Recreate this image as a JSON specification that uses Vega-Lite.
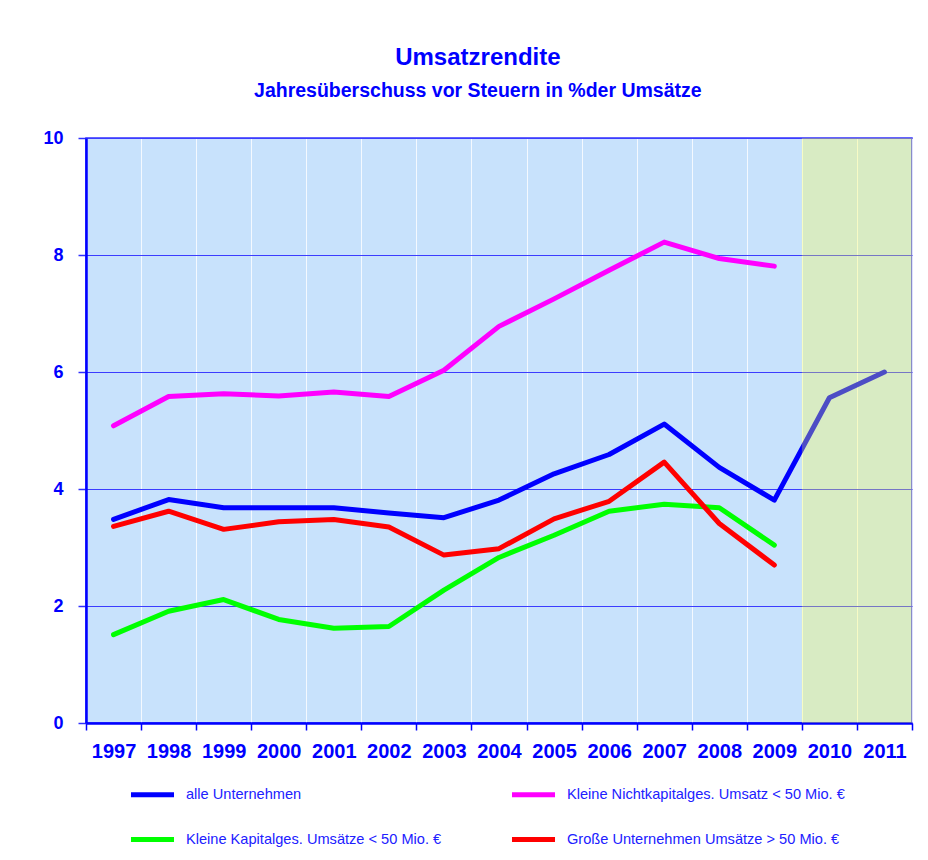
{
  "$schema": "https://vega.github.io/schema/vega-lite/v6.json",
  "width": 826,
  "height": 585,
  "autosize": {"type": "none"},
  "padding": {"left": 86, "top": 138, "right": 16, "bottom": 137},
  "background": "white",
  "title": {
    "text": "Umsatzrendite",
    "subtitle": "Jahresüberschuss vor Steuern in %der Umsätze",
    "anchor": "middle",
    "frame": "bounds",
    "color": "#0000ff",
    "subtitleColor": "#0000ff",
    "font": "Liberation Sans",
    "subtitleFont": "Liberation Sans",
    "fontSize": 24,
    "subtitleFontSize": 19.5,
    "fontWeight": "bold",
    "subtitleFontWeight": "bold",
    "offset": 29,
    "subtitlePadding": 12
  },
  "config": {
    "view": {"fill": "#c8e2fc", "stroke": "#3030ff", "strokeWidth": 1.5}
  },
  "layer": [
    {
      "data": {
        "values": [
          {"year": "1997", "series": "alle Unternehmen", "value": 3.48},
          {"year": "1998", "series": "alle Unternehmen", "value": 3.82},
          {"year": "1999", "series": "alle Unternehmen", "value": 3.68},
          {"year": "2000", "series": "alle Unternehmen", "value": 3.68},
          {"year": "2001", "series": "alle Unternehmen", "value": 3.68},
          {"year": "2002", "series": "alle Unternehmen", "value": 3.59},
          {"year": "2003", "series": "alle Unternehmen", "value": 3.51},
          {"year": "2004", "series": "alle Unternehmen", "value": 3.81},
          {"year": "2005", "series": "alle Unternehmen", "value": 4.26},
          {"year": "2006", "series": "alle Unternehmen", "value": 4.59},
          {"year": "2007", "series": "alle Unternehmen", "value": 5.11},
          {"year": "2008", "series": "alle Unternehmen", "value": 4.37},
          {"year": "2009", "series": "alle Unternehmen", "value": 3.81},
          {"year": "2010", "series": "alle Unternehmen", "value": 5.56},
          {"year": "2011", "series": "alle Unternehmen", "value": 6.0},
          {"year": "1997", "series": "Kleine Nichtkapitalges. Umsatz < 50 Mio. €", "value": 5.08},
          {"year": "1998", "series": "Kleine Nichtkapitalges. Umsatz < 50 Mio. €", "value": 5.58},
          {"year": "1999", "series": "Kleine Nichtkapitalges. Umsatz < 50 Mio. €", "value": 5.63},
          {"year": "2000", "series": "Kleine Nichtkapitalges. Umsatz < 50 Mio. €", "value": 5.59},
          {"year": "2001", "series": "Kleine Nichtkapitalges. Umsatz < 50 Mio. €", "value": 5.66},
          {"year": "2002", "series": "Kleine Nichtkapitalges. Umsatz < 50 Mio. €", "value": 5.58},
          {"year": "2003", "series": "Kleine Nichtkapitalges. Umsatz < 50 Mio. €", "value": 6.03},
          {"year": "2004", "series": "Kleine Nichtkapitalges. Umsatz < 50 Mio. €", "value": 6.78},
          {"year": "2005", "series": "Kleine Nichtkapitalges. Umsatz < 50 Mio. €", "value": 7.25},
          {"year": "2006", "series": "Kleine Nichtkapitalges. Umsatz < 50 Mio. €", "value": 7.74},
          {"year": "2007", "series": "Kleine Nichtkapitalges. Umsatz < 50 Mio. €", "value": 8.22},
          {"year": "2008", "series": "Kleine Nichtkapitalges. Umsatz < 50 Mio. €", "value": 7.94},
          {"year": "2009", "series": "Kleine Nichtkapitalges. Umsatz < 50 Mio. €", "value": 7.81},
          {"year": "1997", "series": "Kleine Kapitalges. Umsätze < 50 Mio. €", "value": 1.51},
          {"year": "1998", "series": "Kleine Kapitalges. Umsätze < 50 Mio. €", "value": 1.91},
          {"year": "1999", "series": "Kleine Kapitalges. Umsätze < 50 Mio. €", "value": 2.11},
          {"year": "2000", "series": "Kleine Kapitalges. Umsätze < 50 Mio. €", "value": 1.77},
          {"year": "2001", "series": "Kleine Kapitalges. Umsätze < 50 Mio. €", "value": 1.62},
          {"year": "2002", "series": "Kleine Kapitalges. Umsätze < 50 Mio. €", "value": 1.65},
          {"year": "2003", "series": "Kleine Kapitalges. Umsätze < 50 Mio. €", "value": 2.27},
          {"year": "2004", "series": "Kleine Kapitalges. Umsätze < 50 Mio. €", "value": 2.83},
          {"year": "2005", "series": "Kleine Kapitalges. Umsätze < 50 Mio. €", "value": 3.21},
          {"year": "2006", "series": "Kleine Kapitalges. Umsätze < 50 Mio. €", "value": 3.62},
          {"year": "2007", "series": "Kleine Kapitalges. Umsätze < 50 Mio. €", "value": 3.74},
          {"year": "2008", "series": "Kleine Kapitalges. Umsätze < 50 Mio. €", "value": 3.68},
          {"year": "2009", "series": "Kleine Kapitalges. Umsätze < 50 Mio. €", "value": 3.04},
          {"year": "1997", "series": "Große Unternehmen Umsätze > 50 Mio. €", "value": 3.36},
          {"year": "1998", "series": "Große Unternehmen Umsätze > 50 Mio. €", "value": 3.62},
          {"year": "1999", "series": "Große Unternehmen Umsätze > 50 Mio. €", "value": 3.31},
          {"year": "2000", "series": "Große Unternehmen Umsätze > 50 Mio. €", "value": 3.44},
          {"year": "2001", "series": "Große Unternehmen Umsätze > 50 Mio. €", "value": 3.48},
          {"year": "2002", "series": "Große Unternehmen Umsätze > 50 Mio. €", "value": 3.35},
          {"year": "2003", "series": "Große Unternehmen Umsätze > 50 Mio. €", "value": 2.87},
          {"year": "2004", "series": "Große Unternehmen Umsätze > 50 Mio. €", "value": 2.98},
          {"year": "2005", "series": "Große Unternehmen Umsätze > 50 Mio. €", "value": 3.49},
          {"year": "2006", "series": "Große Unternehmen Umsätze > 50 Mio. €", "value": 3.79},
          {"year": "2007", "series": "Große Unternehmen Umsätze > 50 Mio. €", "value": 4.46},
          {"year": "2008", "series": "Große Unternehmen Umsätze > 50 Mio. €", "value": 3.41},
          {"year": "2009", "series": "Große Unternehmen Umsätze > 50 Mio. €", "value": 2.70}
        ]
      },
      "mark": {"type": "line", "strokeWidth": 5, "strokeCap": "round", "strokeJoin": "round"},
      "encoding": {
        "x": {
          "field": "year",
          "type": "ordinal",
          "bandPosition": 0.5,
          "scale": {
            "type": "band",
            "paddingInner": 0,
            "paddingOuter": 0,
            "domain": ["1997", "1998", "1999", "2000", "2001", "2002", "2003", "2004", "2005", "2006", "2007", "2008", "2009", "2010", "2011"]
          },
          "axis": {
            "title": null,
            "labelAngle": 0,
            "labelFont": "Liberation Sans",
            "labelFontSize": 20,
            "labelFontWeight": "bold",
            "labelColor": "#0000ff",
            "labelPadding": 11,
            "tickBand": "extent",
            "tickColor": "#0000ff",
            "tickSize": 7,
            "tickWidth": 1.5,
            "domainColor": "#0000ff",
            "domainWidth": 2.5,
            "grid": true,
            "gridColor": "#ffffff",
            "gridOpacity": 0.8,
            "gridWidth": 1
          }
        },
        "y": {
          "field": "value",
          "type": "quantitative",
          "scale": {"domain": [0, 10], "nice": false, "zero": true},
          "axis": {
            "title": null,
            "values": [0, 2, 4, 6, 8, 10],
            "format": "d",
            "labelFont": "Liberation Sans",
            "labelFontSize": 18,
            "labelFontWeight": "bold",
            "labelColor": "#0000ff",
            "labelPadding": 15,
            "tickColor": "#3030ff",
            "tickSize": 8,
            "tickWidth": 1.5,
            "domainColor": "#0000ff",
            "domainWidth": 2.5,
            "grid": true,
            "gridColor": "#3c3cff",
            "gridWidth": 1,
            "gridOpacity": 1
          }
        },
        "color": {
          "field": "series",
          "type": "nominal",
          "sort": null,
          "scale": {
            "domain": ["alle Unternehmen", "Kleine Kapitalges. Umsätze < 50 Mio. €", "Kleine Nichtkapitalges. Umsatz < 50 Mio. €", "Große Unternehmen Umsätze > 50 Mio. €"],
            "range": ["#0000ff", "#00ff00", "#ff00ff", "#ff0000"]
          },
          "legend": {
            "title": null,
            "orient": "none",
            "legendX": 42,
            "legendY": 632,
            "columns": 2,
            "symbolType": "stroke",
            "symbolSize": 1850,
            "symbolStrokeWidth": 5,
            "labelFont": "Liberation Sans",
            "labelFontSize": 14.6,
            "labelColor": "#2020ff",
            "labelOffset": 9,
            "labelLimit": 400,
            "columnPadding": 59,
            "rowPadding": 10,
            "padding": 0
          }
        }
      }
    },
    {
      "data": {"values": [{"year": "2010"}, {"year": "2011"}]},
      "mark": {"type": "rect", "fill": "#ffff40", "opacity": 0.3},
      "encoding": {
        "x": {"field": "year", "type": "ordinal"},
        "y": {"datum": 0},
        "y2": {"datum": 10}
      }
    }
  ]
}
